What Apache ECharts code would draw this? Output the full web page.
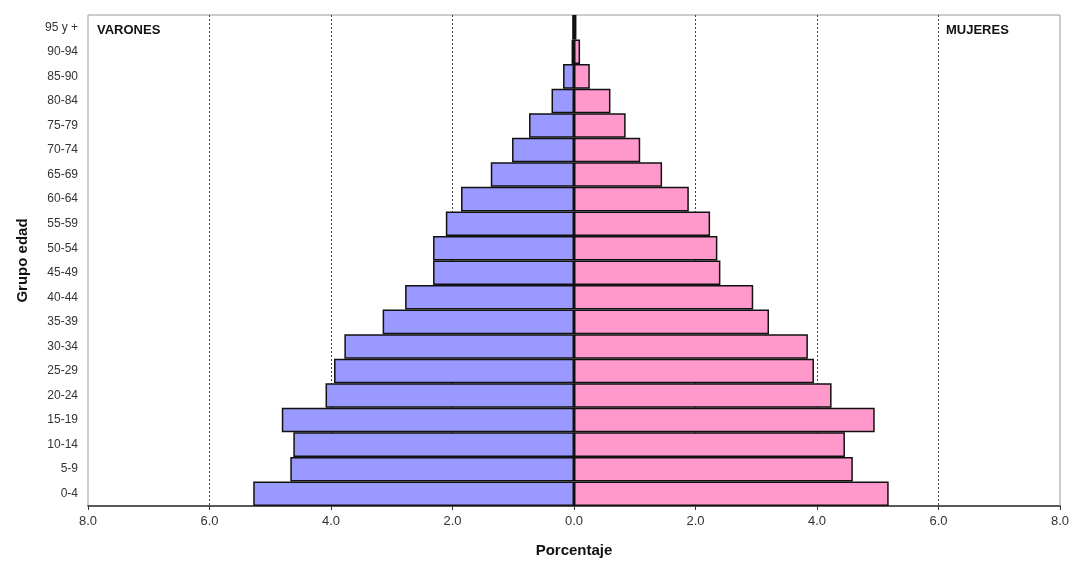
<!DOCTYPE html>
<html>
<head>
<meta charset="utf-8">
<title>Pirámide de población</title>
<script src="https://cdn.jsdelivr.net/npm/echarts@6/dist/echarts.min.js"></script>
<style>
  html, body { margin: 0; padding: 0; background: #fff; }
  #main { width: 1074px; height: 563px; }
</style>
</head>
<body>
<div id="main"></div>
<script>
// grupos de edad, de abajo hacia arriba
var grupos = ['0-4', '5-9', '10-14', '15-19', '20-24', '25-29', '30-34', '35-39', '40-44', '45-49',
  '50-54', '55-59', '60-64', '65-69', '70-74', '75-79', '80-84', '85-90', '90-94', '95 y +'];
// porcentajes
var varones = [5.28, 4.67, 4.62, 4.81, 4.09, 3.95, 3.78, 3.15, 2.78, 2.32,
  2.32, 2.11, 1.86, 1.37, 1.02, 0.74, 0.37, 0.18, 0.04, 0.03];
var mujeres = [5.18, 4.59, 4.46, 4.95, 4.24, 3.95, 3.85, 3.21, 2.95, 2.41,
  2.36, 2.24, 1.89, 1.45, 1.09, 0.85, 0.60, 0.26, 0.10, 0.04];
var ticksX = [-8, -6, -4, -2, 0, 2, 4, 6, 8];

document.addEventListener('DOMContentLoaded', function () {
  var myChart = echarts.init(document.getElementById('main'));
  var fuente = '"Liberation Sans", Arial, sans-serif';

  var option = {
    animation: false,
    textStyle: { fontFamily: fuente },
    grid: {
      left: 88, right: 14, top: 15, bottom: 56,
      show: true, borderColor: '#9a9a9a', borderWidth: 1, backgroundColor: '#fff'
    },
    graphic: [
      { type: 'text', left: 97, top: 24, style: { text: 'VARONES', font: 'bold 13px ' + fuente, fill: '#111' } },
      { type: 'text', left: 946, top: 24, style: { text: 'MUJERES', font: 'bold 13px ' + fuente, fill: '#111' } }
    ],
    xAxis: {
      type: 'value',
      min: ticksX[0],
      max: ticksX[ticksX.length - 1],
      interval: 2,
      name: 'Porcentaje',
      nameLocation: 'middle',
      nameGap: 37,
      nameTextStyle: { fontSize: 15, fontWeight: 'bold', color: '#111' },
      axisLine: { show: true, lineStyle: { color: '#333', width: 1.5 } },
      axisTick: { show: true, length: 4, lineStyle: { color: '#333' } },
      axisLabel: {
        fontSize: 13, color: '#333', margin: 9,
        formatter: function (v) { return Math.abs(v).toFixed(1); }
      },
      splitLine: {
        show: true, showMinLine: false, showMaxLine: false,
        lineStyle: { color: '#444', type: [2, 2], width: 1 }
      }
    },
    yAxis: {
      type: 'category',
      data: grupos,
      name: 'Grupo edad',
      nameLocation: 'middle',
      nameGap: 58,
      nameRotate: 90,
      nameTextStyle: { fontSize: 15, fontWeight: 'bold', color: '#111' },
      axisLine: { show: false },
      axisTick: { show: false },
      axisLabel: { fontSize: 12, color: '#333', margin: 10 }
    },
    series: [
      {
        name: 'Varones',
        type: 'bar',
        data: varones.map(function (v) { return -v; }),
        barCategoryGap: 0,
        barGap: '-100%',
        itemStyle: { color: '#9999ff', borderColor: '#111', borderWidth: 1.5 }
      },
      {
        name: 'Mujeres',
        type: 'bar',
        data: mujeres,
        barCategoryGap: 0,
        barGap: '-100%',
        itemStyle: { color: '#ff99cc', borderColor: '#111', borderWidth: 1.5 }
      }
    ]
  };
  myChart.setOption(option);
});
</script>
</body>
</html>
